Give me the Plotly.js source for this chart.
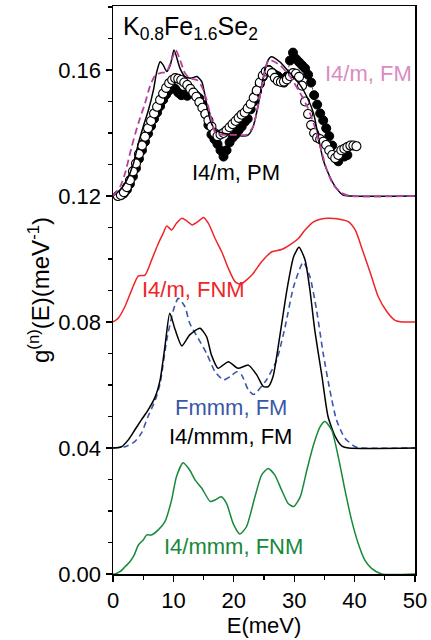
<!DOCTYPE html>
<html>
<head>
<meta charset="utf-8">
<script src="https://cdn.plot.ly/plotly-3.0.1.min.js"></script>
<style>html,body{margin:0;padding:0;background:#fff;}#chart{width:431px;height:640px;}</style>
</head>
<body>
<div id="chart"></div>
<script>
// Experimental (open circles)
const expOpenE = [0.8,1.3,1.8,2.3,2.8,3.3,3.8,4.3,4.8,5.3,5.8,6.3,6.8,7.3,7.8,8.3,8.8,9.3,9.8,10.3,10.8,11.3,11.8,12.3,12.8,13.3,13.8,14.3,14.8,15.3,15.8,16.3,16.8,17.3,17.8,18.3,18.8,19.3,19.8,20.3,20.8,21.3,21.8,22.3,22.8,23.3,23.8,24.3,24.8,25.3,25.8,26.3,26.8,27.3,27.8,28.3,28.8,29.3,29.8,30.3,30.8,31.3,31.8,32.3,32.8,33.3,33.8,34.3,34.8,35.3,35.8,36.3,36.8,37.3,37.8,38.3,38.8,39.3,39.8,40.3];
const expOpenG = [0.1200,0.1203,0.1212,0.1228,0.1250,0.1278,0.1303,0.1333,0.1360,0.1388,0.1415,0.1438,0.1462,0.1483,0.1505,0.1525,0.1543,0.1558,0.1568,0.1574,0.1572,0.1568,0.1560,0.1552,0.1540,0.1528,0.1515,0.1498,0.1480,0.1460,0.1440,0.1420,0.1400,0.1390,0.1395,0.1400,0.1408,0.1418,0.1428,0.1438,0.1448,0.1458,0.1465,0.1478,0.1492,0.1512,0.1535,0.1560,0.1582,0.1595,0.1598,0.1590,0.1575,0.1565,0.1562,0.1563,0.1570,0.1580,0.1590,0.1588,0.1578,0.1550,0.1500,0.1460,0.1425,0.1400,0.1385,0.1380,0.1372,0.1362,0.1345,0.1330,0.1320,0.1330,0.1345,0.1350,0.1355,0.1360,0.1360,0.1358];
// Experimental (filled circles)
const expFillE = [0.8,1.3,1.8,2.3,2.8,3.3,3.8,4.3,4.8,5.3,5.8,6.3,6.8,7.3,7.8,8.3,8.8,9.3,9.8,10.3,10.8,11.3,11.8,12.3,12.8,13.3,13.8,14.3,14.8,15.3,15.8,16.3,16.8,17.3,17.8,18.3,18.8,19.3,19.8,20.3,20.8,21.3,21.8,22.3,22.8,23.3,23.8,24.3,24.8,25.3,25.8,26.3,26.8,27.3,27.8,28.3,28.8,29.3,29.8,30.3,30.8,31.3,31.8,32.3,32.8,33.3,33.8,34.3,34.8,35.3,35.8,36.3,36.8,37.3,37.8,38.3,38.8];
const expFillG = [0.1200,0.1202,0.1208,0.1220,0.1238,0.1262,0.1288,0.1318,0.1345,0.1372,0.1398,0.1422,0.1445,0.1465,0.1485,0.1505,0.1522,0.1535,0.1545,0.1540,0.1528,0.1520,0.1522,0.1518,0.1525,0.1526,0.1518,0.1510,0.1490,0.1462,0.1425,0.1395,0.1380,0.1365,0.1345,0.1325,0.1345,0.1370,0.1385,0.1395,0.1408,0.1420,0.1435,0.1445,0.1475,0.1500,0.1530,0.1555,0.1578,0.1595,0.1600,0.1592,0.1585,0.1580,0.1572,0.1560,0.1580,0.1630,0.1655,0.1635,0.1625,0.1615,0.1605,0.1585,0.1560,0.1520,0.1490,0.1462,0.1440,0.1415,0.1390,0.1360,0.1320,0.1310,0.1330,0.1325,0.1330];
// I4/m, PM (black solid)
const pmE = [0,1.2,2.3,3.4,4.2,5.0,5.8,6.7,7.2,7.8,8.3,8.9,9.5,10.1,11.1,11.9,12.9,13.9,14.7,15.2,16.1,16.9,18.3,19.9,21.6,22.4,23.2,24.1,24.9,25.7,26.2,27.6,29.3,31.0,32.1,33.2,34.0,34.8,35.9,37.0,38.1,39.2,50];
const pmG = [0.12,0.1219,0.1251,0.1304,0.1367,0.142,0.1468,0.1537,0.159,0.1626,0.1616,0.1595,0.1616,0.1663,0.1605,0.1579,0.1574,0.1579,0.1563,0.1522,0.1441,0.141,0.1399,0.1394,0.139,0.1394,0.142,0.1494,0.1579,0.1632,0.1642,0.1626,0.159,0.1552,0.1515,0.1463,0.1388,0.1314,0.1261,0.1224,0.1203,0.12,0.12];
// I4/m, FM (magenta dashed)
const fmE = [0,1.2,2.0,3.1,4.2,5.3,6.1,7.0,7.8,8.9,9.7,10.4,11.1,11.9,12.7,13.9,14.7,15.5,16.3,17.0,18.5,20.5,22.1,23.2,24.3,25.2,25.8,27.6,29.3,31.0,32.3,33.4,34.3,35.4,36.5,37.9,39.2,50];
const fmG = [0.12,0.123,0.1272,0.1357,0.1431,0.1494,0.1547,0.1584,0.159,0.1595,0.1632,0.1663,0.1632,0.159,0.1574,0.1568,0.1547,0.1505,0.1441,0.1399,0.1394,0.1394,0.1394,0.142,0.1515,0.16,0.1632,0.1616,0.1579,0.1526,0.1478,0.142,0.1357,0.1283,0.1235,0.1209,0.12,0.12];
// I4/m, FNM (red)
const fnmE = [0,0.9,2.0,3.1,4.2,5.3,6.4,7.5,8.3,8.9,9.7,10.5,11.4,12.2,13.1,14.0,15.0,15.8,16.9,18.0,19.1,20.2,21.1,23.0,24.6,26.3,27.9,29.6,30.7,31.8,33.2,34.5,35.6,37.3,39.0,40.1,41.4,42.8,43.9,45.3,46.7,47.8,50];
const fnmG = [0.08,0.0813,0.085,0.0902,0.0946,0.0949,0.0997,0.1049,0.1081,0.1105,0.1092,0.1113,0.1129,0.1121,0.1108,0.1118,0.1132,0.1113,0.1065,0.1023,0.097,0.0928,0.092,0.0949,0.0991,0.1023,0.103,0.1049,0.1065,0.1092,0.1118,0.1127,0.1129,0.1127,0.1118,0.1092,0.1023,0.0944,0.0881,0.0834,0.0805,0.08,0.08];
// I4/mmm, FM (black solid)
const mmmFmE = [0,1.4,2.5,3.6,4.7,5.8,7.0,7.8,8.6,9.4,10.3,11.4,12.7,14.4,15.5,16.3,17.4,19.1,20.7,22.4,23.8,24.9,25.7,26.5,27.6,28.8,29.9,30.8,31.8,32.6,33.4,34.6,35.6,36.8,37.9,39.0,50];
const mmmFmG = [0.04,0.0404,0.0425,0.0457,0.0489,0.052,0.0563,0.0616,0.0722,0.0828,0.0775,0.0724,0.0759,0.078,0.0753,0.0695,0.0653,0.0674,0.0653,0.0663,0.0632,0.0595,0.0595,0.0627,0.0753,0.0902,0.1007,0.1037,0.0997,0.0902,0.0775,0.0627,0.05,0.0436,0.0406,0.04,0.04];
// Fmmm, FM (blue dashed)
const fmmmE = [0,2.0,3.6,4.7,5.8,7.0,7.8,8.9,10.0,10.8,11.9,12.7,14.1,15.5,16.9,18.3,19.4,20.5,21.3,22.4,23.3,25.4,27.1,28.5,29.9,31.5,32.6,33.7,34.8,35.9,37.0,38.4,40.1,41,50];
const fmmmG = [0.04,0.0404,0.042,0.0447,0.05,0.0552,0.0605,0.0743,0.0838,0.0875,0.0849,0.0796,0.0748,0.07,0.0642,0.0616,0.0627,0.0642,0.0632,0.0584,0.057,0.0616,0.0679,0.0785,0.0912,0.099,0.0944,0.0838,0.07,0.0584,0.0489,0.0431,0.0404,0.04,0.04];
// I4/mmm, FNM (green)
const mmmFnmE = [0,0.3,1.2,2.0,2.8,3.5,4.2,5.0,5.6,6.4,7.5,8.6,9.7,10.5,11.6,12.7,13.6,14.7,16.1,16.9,17.9,18.8,19.9,21.0,22.1,23.5,24.6,25.7,26.8,27.9,29.0,29.9,31.0,32.1,33.2,34.3,35.1,36.2,37.3,38.4,39.5,40.6,41.7,42.8,44.5,50];
const mmmFnmG = [0,0,0.0008,0.0023,0.0039,0.006,0.0092,0.0108,0.0124,0.0124,0.014,0.0166,0.0235,0.0309,0.0353,0.033,0.0298,0.0272,0.023,0.0235,0.0245,0.0224,0.016,0.0127,0.015,0.0245,0.0314,0.0335,0.0314,0.0267,0.0224,0.0214,0.0245,0.033,0.041,0.0468,0.0484,0.0457,0.0372,0.0267,0.0171,0.0097,0.0044,0.0018,0,0];

const xTicks = [0,10,20,30,40,50];
const yTicks = [0,0.04,0.08,0.12,0.16];
const yTickText = ['0.00','0.04','0.08','0.12','0.16'];

const FONT = 'Liberation Sans, Arial, sans-serif';
const line = (x, y, color, dash, w) => ({x, y, type:'scatter', mode:'lines',
  line:{color, width:w||1.5, dash:dash||'solid', shape:'spline', smoothing:0.6}, hoverinfo:'skip'});

const traces = [
  {x:expFillE, y:expFillG, type:'scatter', mode:'lines+markers',
   line:{color:'#000', width:0.7, dash:'2px,2px'},
   marker:{symbol:'circle', size:9, color:'#000', line:{color:'#000', width:1}}},
  {x:expOpenE, y:expOpenG, type:'scatter', mode:'markers',
   marker:{symbol:'circle', size:9, color:'#fff', line:{color:'#000', width:1.1}}},
  line(pmE, pmG, '#000'),
  line(fmE, fmG, '#b5409f', '7px,4px', 1.8),
  line(fnmE, fnmG, '#ee2528'),
  line(fmmmE, fmmmG, '#3a58a8', '6px,4px', 1.6),
  line(mmmFmE, mmmFmG, '#000'),
  line(mmmFnmE, mmmFnmG, '#17893a')
];

const ann = (x, y, text, color, extra) => Object.assign({x, y, xref:'x', yref:'y', text, showarrow:false,
  xanchor:'left', yanchor:'middle', font:{family:FONT, size:22, color}}, extra||{});

const layout = {
  width:431, height:640,
  margin:{l:113, r:16, t:6, b:66},
  paper_bgcolor:'#fff', plot_bgcolor:'#fff',
  showlegend:false,
  font:{family:FONT, size:22, color:'#000'},
  xaxis:{range:[0,50], tickvals:xTicks, ticks:'outside', ticklen:6, tickwidth:1.2, tickcolor:'#000',
    minor:{dtick:5, ticks:'outside', ticklen:4, tickwidth:1.2, tickcolor:'#000'},
    showline:true, linecolor:'#000', linewidth:1.5, mirror:true, showgrid:false, zeroline:false,
    tickfont:{family:FONT, size:22},
    title:{text:'E(meV)', font:{family:FONT, size:22}, standoff:4}},
  yaxis:{range:[0,0.1803], tickvals:yTicks, ticktext:yTickText, ticks:'outside', ticklen:6, tickwidth:1.2, tickcolor:'#000',
    minor:{dtick:0.01, ticks:'outside', ticklen:4, tickwidth:1.2, tickcolor:'#000'},
    showline:true, linecolor:'#000', linewidth:1.5, mirror:true, showgrid:false, zeroline:false,
    tickfont:{family:FONT, size:22},
    title:{text:'g<sup>(n)</sup>(E)(meV<sup>-1</sup>)', font:{family:FONT, size:24}, standoff:2}},
  annotations:[
    ann(1.3, 0.1791, 'K<sub>0.8</sub>Fe<sub>1.6</sub>Se<sub>2</sub>', '#000', {yanchor:'top', font:{family:FONT, size:25, color:'#000'}}),
    ann(34.8, 0.159, 'I4/m, FM', '#d98cc2'),
    ann(12.7, 0.1276, 'I4/m, PM', '#000'),
    ann(4.5, 0.0902, 'I4/m, FNM', '#ee2528'),
    ann(9.9, 0.0527, 'Fmmm, FM', '#3a58a8'),
    ann(8.9, 0.0438, 'I4/mmm, FM', '#000'),
    ann(8.1, 0.0086, 'I4/mmm, FNM', '#17893a')
  ]
};

Plotly.newPlot('chart', traces, layout, {displayModeBar:false, staticPlot:true});
</script>
</body>
</html>
